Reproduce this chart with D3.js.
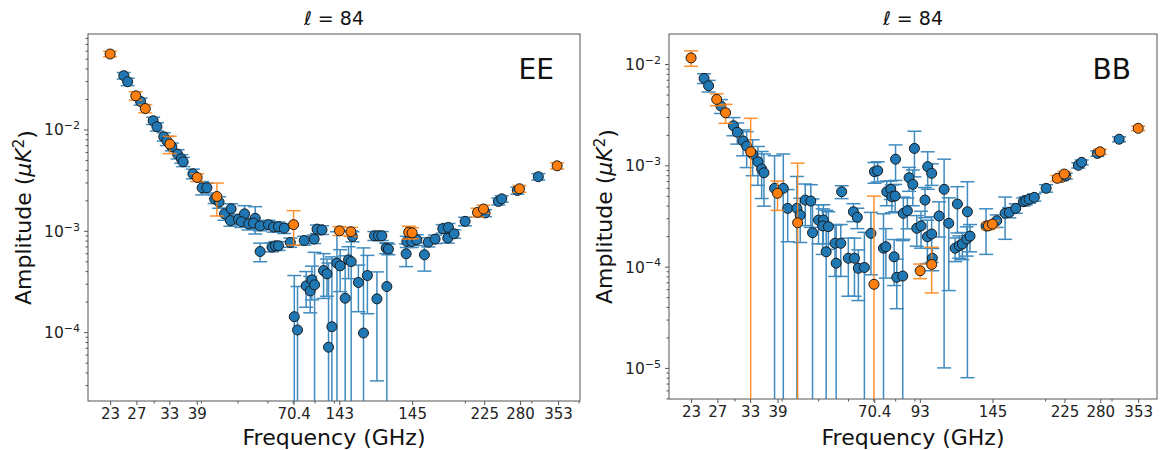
<!DOCTYPE html>
<html>
<head>
<meta charset="utf-8">
<script src="https://cdn.jsdelivr.net/npm/d3@7"></script>
<style>
  body { margin: 0; background: #fff; }
  svg { font-family: 'DejaVu Sans', sans-serif; }
</style>
</head>
<body>
<svg id="chart" width="1161" height="450"></svg>
<script>
// Tick positions (GHz) and their printed labels
const xTickVals = [23, 27, 33, 39, 70.4, 93, 145, 225, 280, 353];
const eeTickLabels = ['23', '27', '33', '39', '70.4', '143', '145', '225', '280', '353'];
const bbTickLabels = ['23', '27', '33', '39', '70.4', '93', '145', '225', '280', '353'];
const xMinorVals = [20, 30, 40, 50, 60, 70, 80, 90, 200, 300, 400];
const eeYTicks = [1e-4, 1e-3, 1e-2];
const bbYTicks = [1e-5, 1e-4, 1e-3, 1e-2];

// [frequency GHz, amplitude uK^2, 1-sigma error]
const eeOrange = [
  [23, 5.56e-2, 3.5e-3], [26.9, 2.15e-2, 2e-3], [28.5, 1.61e-2, 1.5e-3],
  [33.1, 7.18e-3, 1.4e-3], [39.1, 3.36e-3, 3e-4], [44.1, 2.18e-3, 7.8e-4],
  [70.4, 1.15e-3, 4.3e-4], [93.1, 1.0e-3, 1e-4], [99.8, 9.8e-4, 1e-4],
  [142, 9.7e-4, 1.4e-4], [145, 9.55e-4, 1.2e-4], [216, 1.52e-3, 1.5e-4],
  [224, 1.64e-3, 1.5e-4], [279, 2.6e-3, 2e-4], [351, 4.38e-3, 3e-4]
];

const eeBlue = [
  [25.0, 3.4e-2, 2.5e-3], [25.6, 2.96e-2, 2.5e-3], [27.7, 1.89e-2, 1.5e-3],
  [29.9, 1.22e-2, 1e-3], [30.6, 1.065e-2, 1e-3], [31.9, 8.48e-3, 8e-4],
  [32.5, 7.74e-3, 8e-4], [33.5, 6.75e-3, 6e-4], [34.7, 5.72e-3, 6e-4],
  [35.5, 5.14e-3, 5e-4], [35.9, 4.8e-3, 5e-4], [38.1, 3.66e-3, 4e-4],
  [40.3, 2.66e-3, 4e-4], [41.5, 2.66e-3, 3e-4], [43.5, 2.06e-3, 2e-4],
  [44.7, 1.92e-3, 2.5e-4], [46.2, 1.47e-3, 2e-4], [48.1, 1.65e-3, 2e-4],
  [47.9, 1.26e-3, 1.5e-4], [50.3, 1.3e-3, 1.5e-4], [52.2, 1.47e-3, 3e-4],
  [51.2, 1.23e-3, 1.5e-4], [53.5, 1.17e-3, 1.5e-4], [55.7, 1.33e-3, 4e-4],
  [55.1, 1.19e-3, 1.5e-4], [57.4, 1.12e-3, 1.2e-4], [60.4, 1.15e-3, 1.2e-4],
  [62.3, 1.09e-3, 1.2e-4], [64.2, 1.1e-3, 1.2e-4], [66.5, 1.06e-3, 1.2e-4],
  [57.4, 6.25e-4, 1.3e-4], [61.7, 6.9e-4, 7e-5], [63.0, 7.11e-4, 7e-5],
  [64.2, 7.11e-4, 7e-5], [69.0, 7.67e-4, 8e-5], [75.1, 8.02e-4, 8e-5],
  [79.8, 8.28e-4, 8e-5], [81.2, 1.04e-3, 1e-4], [83.7, 1.02e-3, 1e-4],
  [100.8, 8.78e-4, 1e-4], [115.2, 8.93e-4, 9e-5], [118.1, 8.93e-4, 9e-5],
  [120.5, 8.93e-4, 9e-5], [123.8, 6.75e-4, 8e-5], [125.5, 6.6e-4, 8e-5],
  [139.8, 5.93e-4, 1.5e-4], [140.4, 7.84e-4, 1e-4], [144.7, 7.84e-4, 1e-4],
  [149.2, 8.15e-4, 1e-4], [156.3, 5.8e-4, 1.8e-4], [160.1, 7.73e-4, 8e-5],
  [166.8, 8.28e-4, 8e-5], [174.8, 1.05e-3, 1e-4], [180.9, 1.08e-3, 1e-4],
  [180.2, 8.47e-4, 9e-5], [187.3, 9.34e-4, 9e-5], [200.3, 1.24e-3, 1.2e-4],
  [226.2, 1.5e-3, 1.2e-4], [245.3, 1.95e-3, 1.5e-4], [250.4, 2.07e-3, 1.5e-4],
  [275.4, 2.5e-3, 2e-4], [313, 3.42e-3, 2.5e-4],
  [70.7, 1.42e-4, 2.2e-4], [72.1, 1.05e-4, 1.77e-4], [76.0, 2.86e-4, 1.1e-4],
  [77.9, 2.55e-4, 1.0e-4], [78.7, 3.28e-4, 1.2e-4], [80.0, 2.93e-4, 3.2e-4],
  [84.5, 4.05e-4, 1.9e-4], [86.3, 3.76e-4, 1.5e-4], [87.1, 7.1e-5, 4.1e-4],
  [88.9, 1.13e-4, 4.4e-4], [91.7, 4.8e-4, 5e-4], [93.5, 4.51e-4, 2e-4],
  [96.4, 2.16e-4, 3.5e-4], [98.4, 5.17e-4, 1.8e-4], [100, 4.97e-4, 5e-4],
  [104.5, 3.09e-4, 1.5e-4], [107.8, 9.8e-5, 5.8e-4], [110.4, 3.62e-4, 2.1e-4],
  [117, 2.13e-4, 1.8e-4], [124.3, 2.82e-4, 4.8e-4]
];

const bbOrange = [
  [23, 1.15e-2, 2e-3], [26.9, 4.48e-3, 6e-4], [28.4, 3.3e-3, 7e-4],
  [33.1, 1.36e-3, 1.55e-3], [39.0, 5.29e-4, 1.7e-4], [44.1, 2.71e-4, 7.8e-4],
  [70.3, 6.69e-5, 4.3e-4], [93.2, 9.1e-5, 1.5e-5], [100, 1.05e-4, 5e-5],
  [141.3, 2.52e-4, 2e-5], [144.9, 2.63e-4, 2e-5], [215.4, 7.44e-4, 5e-5],
  [224.8, 8.2e-4, 5e-5], [279.7, 1.36e-3, 8e-5], [353, 2.32e-3, 1.2e-4]
];

const bbBlue = [
  [24.9, 7.22e-3, 8e-4], [25.6, 6.1e-3, 8e-4], [27.6, 3.85e-3, 6e-4],
  [29.8, 2.46e-3, 5e-4], [30.5, 2.12e-3, 5e-4], [31.6, 1.74e-3, 5e-4],
  [32.3, 1.55e-3, 6e-4], [33.5, 1.29e-3, 5e-4], [34.6, 1.085e-3, 4.5e-4],
  [35.4, 9.2e-4, 4.5e-4], [35.9, 8.45e-4, 4.5e-4], [38.3, 5.93e-4, 6.5e-4],
  [40.4, 5.93e-4, 7e-4], [41.5, 3.76e-4, 2e-4], [43.9, 3.76e-4, 4e-4],
  [44.8, 3.23e-4, 1.5e-4], [46.2, 4.54e-4, 2e-4], [47.8, 4.44e-4, 2e-4],
  [48.3, 2.16e-4, 2.5e-4], [50.1, 2.88e-4, 1.2e-4], [51.6, 2.88e-4, 1.2e-4],
  [51.4, 2.52e-4, 1.2e-4], [53.2, 2.48e-4, 1e-4], [52.5, 1.4e-4, 2.2e-4],
  [55.4, 1.7e-4, 9e-5], [57.4, 1.7e-4, 9e-5], [55.8, 1.08e-4, 1.5e-4],
  [57.7, 5.49e-4, 8e-5], [60.1, 1.21e-4, 7e-5], [62.4, 1.21e-4, 7e-5],
  [63.9, 9.62e-5, 5e-5], [66.3, 9.8e-5, 1.2e-4], [62.0, 3.48e-4, 7e-5],
  [63.5, 3.07e-4, 7e-5], [69.0, 2.13e-4, 1.3e-4], [70.5, 8.65e-4, 2e-4],
  [71.9, 8.85e-4, 2e-4], [74.5, 1.52e-4, 1.8e-4], [75.6, 1.57e-4, 8e-5],
  [76.0, 5.49e-4, 1.5e-4], [77.9, 5.8e-4, 1.2e-4], [78.4, 4.9e-4, 1.5e-4],
  [80.0, 4.98e-4, 1.5e-4], [80.2, 1.15e-3, 4.4e-4], [79.5, 1.25e-4, 6e-5],
  [80.8, 7.84e-5, 4e-5], [83.8, 8.07e-5, 1e-4], [84.1, 3.36e-4, 1.5e-4],
  [86.2, 3.56e-4, 1.2e-4], [87.1, 7.54e-4, 2e-4], [89.1, 6.49e-4, 2.5e-4],
  [90.0, 1.47e-3, 7e-4], [91.3, 2.39e-4, 8e-5], [93.7, 2.52e-4, 1e-4],
  [96.0, 4.54e-4, 1.5e-4], [97.4, 1.97e-4, 9e-5], [100, 2.1e-4, 1e-4],
  [97.6, 9.7e-4, 3.9e-4], [100, 8.34e-4, 2e-4], [100.4, 1.21e-4, 3e-5],
  [104.6, 3.16e-4, 1.2e-4], [107.9, 5.8e-4, 5.7e-4], [111, 2.68e-4, 2.1e-4],
  [117, 4.15e-4, 2e-4], [124.4, 3.48e-4, 3.4e-4], [115.4, 1.52e-4, 4e-5],
  [118.4, 1.61e-4, 4e-5], [120.6, 1.67e-4, 5e-5], [123.9, 1.87e-4, 6e-5],
  [126.4, 2.0e-4, 6e-5], [139.4, 2.52e-4, 1.2e-4], [148.8, 2.84e-4, 4e-5],
  [156.6, 3.36e-4, 1.5e-4], [160.7, 3.43e-4, 4e-5], [167.1, 3.76e-4, 4e-5],
  [175.1, 4.37e-4, 4e-5], [177.7, 4.47e-4, 4e-5], [181.3, 4.62e-4, 4e-5],
  [187.2, 4.83e-4, 4e-5], [201.2, 5.93e-4, 5e-5], [221.3, 7.61e-4, 5e-5],
  [226.9, 7.84e-4, 5e-5], [244.9, 1.0e-3, 6e-5], [250, 1.07e-3, 6e-5],
  [275.1, 1.31e-3, 8e-5], [314.2, 1.81e-3, 1e-4]
];

const BLUE = '#1f77b4';
const ORANGE = '#ff7f0e';

const svg = d3.select('#chart');

const panels = [
  {
    key: 'EE', blue: eeBlue, orange: eeOrange, xLabels: eeTickLabels, yTicks: eeYTicks,
    xDomain: [20.1, 403.5], yDomain: [2.09e-5, 8.76e-2],
    left: 88, right: 580, top: 34, bottom: 401, ylabelX: 31
  },
  {
    key: 'BB', blue: bbBlue, orange: bbOrange, xLabels: bbTickLabels, yTicks: bbYTicks,
    xDomain: [20.1, 396], yDomain: [4.93e-6, 1.98e-2],
    left: 669, right: 1157, top: 34, bottom: 399, ylabelX: 612
  }
];

function drawPanel(p) {
  const x = d3.scaleLog().domain(p.xDomain).range([p.left, p.right]);
  const y = d3.scaleLog().domain(p.yDomain).range([p.bottom, p.top]);
  const g = svg.append('g');

  // clip region for error bars / markers
  const clipId = 'clip-' + p.key;
  svg.append('clipPath').attr('id', clipId)
    .append('rect')
    .attr('x', p.left).attr('y', p.top)
    .attr('width', p.right - p.left).attr('height', p.bottom - p.top);

  // x axis: major (custom labels) and minor ticks
  const xMajor = d3.axisBottom(x)
    .tickValues(xTickVals)
    .tickFormat(d => p.xLabels[xTickVals.indexOf(d)])
    .tickSize(4).tickPadding(3);
  const xAx = g.append('g').attr('transform', `translate(0,${p.bottom})`).call(xMajor);
  xAx.select('.domain').remove();
  xAx.selectAll('text').attr('font-size', 15).attr('fill', '#222')
    .attr('font-family', "'DejaVu Sans', sans-serif");
  xAx.selectAll('line').attr('stroke', '#555');

  const xMin = d3.axisBottom(x)
    .tickValues(xMinorVals.filter(v => v >= p.xDomain[0] && v <= p.xDomain[1]))
    .tickFormat('').tickSize(2.5);
  const xMinAx = g.append('g').attr('transform', `translate(0,${p.bottom})`).call(xMin);
  xMinAx.select('.domain').remove();
  xMinAx.selectAll('line').attr('stroke', '#555');

  // y axis: major decades with superscript labels, minor 2..9
  const yMajor = d3.axisLeft(y).tickValues(p.yTicks).tickFormat('').tickSize(4);
  const yAx = g.append('g').attr('transform', `translate(${p.left},0)`).call(yMajor);
  yAx.select('.domain').remove();
  yAx.selectAll('line').attr('stroke', '#555');
  yAx.selectAll('.tick').each(function (d) {
    const t = d3.select(this).append('text')
      .attr('x', -8).attr('dy', '0.35em')
      .attr('text-anchor', 'end')
      .attr('fill', '#222')
      .attr('font-size', 15.5)
      .attr('font-family', "'DejaVu Sans', sans-serif");
    t.append('tspan').text('10');
    t.append('tspan').attr('dy', '-0.55em').attr('font-size', 11)
      .text('\u2212' + Math.round(-Math.log10(d)));
  });

  const minorY = [];
  for (let e = -7; e <= 0; e++) {
    for (let k = 2; k <= 9; k++) {
      const v = k * Math.pow(10, e);
      if (v >= p.yDomain[0] && v <= p.yDomain[1]) minorY.push(v);
    }
  }
  const yMin = d3.axisLeft(y).tickValues(minorY).tickFormat('').tickSize(2.5);
  const yMinAx = g.append('g').attr('transform', `translate(${p.left},0)`).call(yMin);
  yMinAx.select('.domain').remove();
  yMinAx.selectAll('line').attr('stroke', '#555');

  // frame
  g.append('rect')
    .attr('x', p.left).attr('y', p.top)
    .attr('width', p.right - p.left).attr('height', p.bottom - p.top)
    .attr('fill', 'none').attr('stroke', '#555').attr('stroke-width', 1);

  const plot = g.append('g').attr('clip-path', `url(#${clipId})`);

  function series(data, color) {
    const s = plot.append('g');
    const capW = 7;
    const bars = s.append('g')
      .attr('stroke', color).attr('stroke-width', 1.5).attr('opacity', 0.85);
    data.forEach(d => {
      const cx = x(d[0]);
      const hi = d[1] + d[2];
      const lo = d[1] - d[2];
      const yHi = y(hi);
      const yLo = lo > 0 ? y(lo) : p.bottom + 20;
      bars.append('line').attr('x1', cx).attr('x2', cx).attr('y1', yHi).attr('y2', yLo);
      bars.append('line').attr('x1', cx - capW).attr('x2', cx + capW).attr('y1', yHi).attr('y2', yHi);
      if (lo > 0) {
        bars.append('line').attr('x1', cx - capW).attr('x2', cx + capW).attr('y1', yLo).attr('y2', yLo);
      }
    });
    s.append('g').selectAll('circle')
      .data(data)
      .enter()
      .append('circle')
      .attr('cx', d => x(d[0]))
      .attr('cy', d => y(d[1]))
      .attr('r', 5)
      .attr('fill', color)
      .attr('stroke', '#1a1a1a')
      .attr('stroke-width', 1);
  }

  series(p.blue, BLUE);
  series(p.orange, ORANGE);

  const cx = (p.left + p.right) / 2;

  // title
  const title = g.append('text')
    .attr('x', cx).attr('y', 25)
    .attr('text-anchor', 'middle')
    .attr('font-size', 19)
    .attr('fill', '#111');
  title.append('tspan').attr('font-style', 'italic').text('\u2113');
  title.append('tspan').text(' = 84');

  // spectrum label
  g.append('text')
    .attr('x', p.right - 26).attr('y', 79)
    .attr('text-anchor', 'end')
    .attr('font-size', 28)
    .attr('fill', '#111')
    .text(p.key);

  // x label
  g.append('text')
    .attr('x', cx).attr('y', 445)
    .attr('text-anchor', 'middle')
    .attr('font-size', 22)
    .attr('fill', '#111')
    .text('Frequency (GHz)');

  // y label
  const yl = g.append('text')
    .attr('transform', `translate(${p.ylabelX},${(p.top + p.bottom) / 2}) rotate(-90)`)
    .attr('text-anchor', 'middle')
    .attr('font-size', 22)
    .attr('fill', '#111');
  yl.append('tspan').text('Amplitude (');
  yl.append('tspan').attr('font-style', 'italic').text('\u03bcK');
  yl.append('tspan').attr('dy', '-0.45em').attr('font-size', 15).text('2');
  yl.append('tspan').attr('dy', '0.45em').text(')');
}

panels.forEach(drawPanel);
</script>
</body>
</html>
